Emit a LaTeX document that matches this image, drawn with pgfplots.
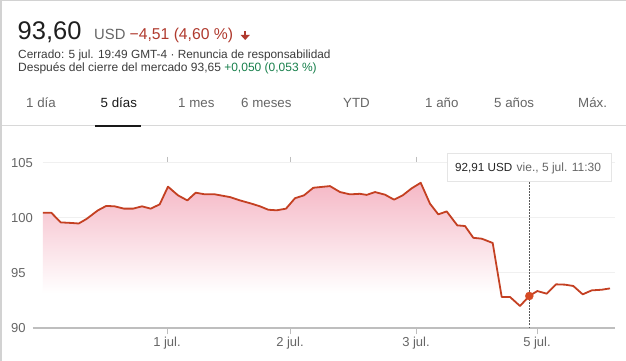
\documentclass[border=0pt]{standalone}
\usepackage{fontspec}
\setmainfont{Liberation Sans}
\usepackage{pgfplots}
\pgfplotsset{compat=1.18}
\usetikzlibrary{shadows}
\definecolor{linec}{RGB}{196,64,34}
\definecolor{markc}{RGB}{214,74,36}
\definecolor{pinkc}{RGB}{245,184,198}
\definecolor{redc}{RGB}{176,58,46}
\definecolor{greenc}{RGB}{24,128,76}
\definecolor{txtc}{RGB}{60,60,60}
\definecolor{grayt}{RGB}{102,102,102}
\definecolor{gridc}{RGB}{240,240,240}
\definecolor{basec}{RGB}{190,190,190}
\pgfdeclareverticalshading{myfade}{100bp}{color(0bp)=(white); color(37bp)=(white); color(75bp)=(pinkc); color(100bp)=(pinkc)}
\newcommand{\fs}[1]{\fontsize{#1}{#1}\selectfont}
\pgfplotstableread{
x y
43 100.48
51.3 100.48
60.7 99.6
71.3 99.55
78.7 99.5
86.3 99.9
98 100.7
106.3 101.1
114.7 101.06
124 100.85
133 100.85
142 101.06
150.7 100.85
159.7 101.24
168 102.85
178 102.06
187.3 101.6
195.7 102.3
205 102.15
215 102.15
230 101.9
240 101.6
251.7 101.3
260 101.06
268.3 100.75
276.7 100.7
286 100.85
295 101.8
304 102.06
313.3 102.75
330 102.9
340 102.36
350 102.15
360 102.2
366.7 102.1
375 102.36
385 102.12
394 101.67
402.7 102.06
411.7 102.7
420.7 103.2
430 101.3
438.3 100.33
446.7 100.6
457.3 99.33
465 99.27
473.3 98.2
481.7 98.12
492.7 97.73
501.7 92.82
510 92.82
520 92.0
529.3 92.91
537.3 93.36
546.7 93.12
556 93.97
565 93.94
573.3 93.82
582.7 93.06
591.7 93.42
601.7 93.48
610 93.6
}\prices
\begin{document}
\begin{tikzpicture}[x=1pt,y=1pt]
\useasboundingbox (0,0) rectangle (626,361);
\fill[white] (0,0) rectangle (626,361);
\draw[basec!70, line width=1.5pt] (0.75,0) -- (0.75,360.25) -- (626,360.25);
% header
\node[anchor=base west, inner sep=0, font=\fs{25.5}, text=black!88] at (17.5,321.7) {93,60};
\node[anchor=base west, inner sep=0, font=\fs{14.8}, text=grayt] at (94,321.7) {USD};
\node[anchor=base west, inner sep=0, font=\fs{15.7}, text=redc] at (129.5,321.7) {−4,51 (4,60 \%)};
\fill[redc] (244,361-31.5) rectangle (246.4,361-36);
\fill[redc] (240.6,361-35) -- (249.8,361-35) -- (245.2,361-40) -- cycle;
\node[anchor=base west, inner sep=0, font=\fs{11.85}, text=txtc] at (18,302.7) {Cerrado: 5 jul. 19:49 GMT-4 · Renuncia de responsabilidad};
\node[anchor=base west, inner sep=0, font=\fs{12}, text=txtc] at (18,289.3) {Después del cierre del mercado 93,65 \textcolor{greenc}{+0,050 (0,053 \%)}};
% tabs
\foreach \xx/\tt in {26/1 día, 178/1 mes, 241/6 meses, 343/YTD, 425/1 año, 494/5 años, 578/Máx.}{
  \node[anchor=base west, inner sep=0, font=\fs{13.3}, text=grayt] at (\xx,253) {\tt};
}
\node[anchor=base west, inner sep=0, font=\fs{13.3}, text=black!90] at (100.5,253) {5 días};
\fill[basec!60] (2,234.5) rectangle (626,235.5);
\fill[black!90] (95,233.5) rectangle (141,236.2);
\begin{axis}[
  at={(43,30)}, anchor=south west,
  scale only axis, width=572pt, height=165pt,
  xmin=43, xmax=615, ymin=90, ymax=105,
  clip=false,
  axis line style={draw=none},
  ytick={90,95,100,105},
  yticklabels={90,95,100,105},
  ytick style={draw=none},
  yticklabel style={anchor=west, inner sep=0pt, xshift=-26pt, font=\fs{13}, text=grayt},
  xtick={167,290,416,537},
  xticklabels={1 jul.,2 jul.,3 jul.,5 jul.},
  xtick style={draw=basec, line width=1pt},
  major tick length=6pt,
  tick align=outside,
  xticklabel style={font=\fs{13}, text=grayt, inner sep=0pt, anchor=base, yshift=-12pt},
  /pgf/number format/assume math mode=true,
]
\draw[gridc, line width=1pt] (axis cs:43,105) -- (axis cs:615,105);
\draw[gridc, line width=1pt] (axis cs:43,100) -- (axis cs:615,100);
\draw[gridc, line width=1pt] (axis cs:43,95) -- (axis cs:615,95);
\addplot[draw=none, shading=myfade, forget plot] table[x=x,y=y, restrict x to domain=43:529.3] {\prices} -- (axis cs:529.3,90) -- (axis cs:43,90) -- cycle;
\draw[basec, line width=2pt] (axis cs:33,90) -- (axis cs:615,90);
\addplot[linec, line width=1.8pt, line join=round] table[x=x,y=y] {\prices};
\draw[black!65, dash pattern=on 1.5pt off 1.5pt, line width=0.8pt] (axis cs:529.3,90) -- (axis cs:529.3,103.64);
\addplot[only marks, mark=*, mark size=4pt, color=markc] coordinates {(529.3,92.91)};
\end{axis}
% tooltip
\fill[white, drop shadow={opacity=0.3, shadow xshift=0pt, shadow yshift=-1pt}] (447,180) rectangle (611,208);
\draw[basec!40, line width=0.5pt] (447,180) rectangle (611,208);
\node[anchor=base west, inner sep=0, font=\fs{11.7}, text=black!85] at (455,189.5) {92,91 USD};
\node[anchor=base west, inner sep=0, font=\fs{12}, text=grayt] at (516.5,189.5) {vie., 5 jul. 11:30};
\end{tikzpicture}
\end{document}
